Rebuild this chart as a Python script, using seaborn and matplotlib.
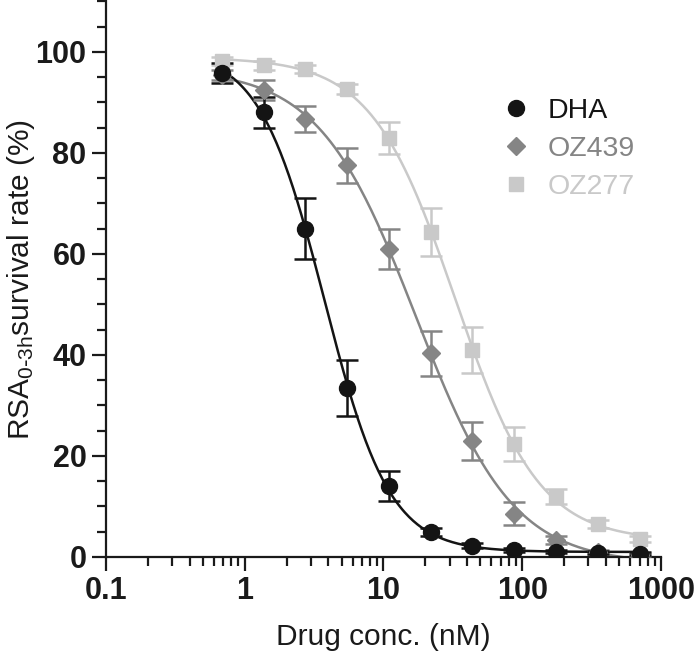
import numpy as np
import pandas as pd
import matplotlib
matplotlib.use('Agg')
import matplotlib.pyplot as plt
import seaborn as sns

# concentrations (nM), 2-fold dilution series
conc = [0.684, 1.37, 2.73, 5.47, 10.9, 21.9, 43.75, 87.5, 175, 350, 700]

# survival rate (%)
dha_mean = [95.8, 88.0, 65.0, 33.5, 14.0, 5.0, 2.2, 1.3, 1.0, 0.8, 0.6]
dha_err = [2.0, 3.0, 6.0, 5.5, 3.0, 0.8, 0.5, 0.4, 0.3, 0.3, 0.3]
oz439_mean = [95.5, 92.5, 86.7, 77.5, 61.0, 40.3, 23.0, 8.6, 3.4, 1.0, 0.4]
oz439_err = [1.0, 2.0, 2.5, 3.5, 4.0, 4.5, 3.7, 2.3, 0.8, 0.4, 0.3]
oz277_mean = [98.2, 97.3, 96.6, 92.7, 83.0, 64.3, 41.0, 22.4, 11.9, 6.5, 3.6]
oz277_err = [0.8, 0.8, 0.8, 1.0, 3.2, 4.7, 4.5, 3.3, 1.5, 0.8, 0.6]

drugs = ['DHA', 'OZ439', 'OZ277']
colors = {'DHA': '#141414', 'OZ439': '#858585', 'OZ277': '#c9c9c9'}
markers = {'DHA': 'o', 'OZ439': 'D', 'OZ277': 's'}
msizes = {'DHA': 11.5, 'OZ439': 9, 'OZ277': 10.5}

xtick_vals = [0.1, 1, 10, 100, 1000]
xtick_labels = ['0.1', '1', '10', '100', '1000']
ytick_vals = [0, 20, 40, 60, 80, 100]

rows = []
for name, m, e in [('DHA', dha_mean, dha_err), ('OZ439', oz439_mean, oz439_err),
                   ('OZ277', oz277_mean, oz277_err)]:
    for c, mm, ee in zip(conc, m, e):
        rows.append({'drug': name, 'conc': c, 'mean': mm, 'err': ee})
df = pd.DataFrame(rows)


def logistic4(p, lx):
    b, t, c, h = p
    return b + (t - b) / (1 + 10 ** ((lx - c) * h))


def fit_4pl(x, y):
    # small Levenberg-Marquardt fit of a 4-parameter logistic
    lx = np.log10(x)
    y = np.asarray(y, float)
    p = np.array([y.min(), y.max(), np.interp(-(y.max() + y.min()) / 2, -y, lx), 1.5])
    lam = 1e-3
    for _ in range(300):
        f0 = logistic4(p, lx)
        r = y - f0
        J = np.empty((len(lx), 4))
        for i in range(4):
            dp = np.zeros(4)
            dp[i] = 1e-6 * max(1.0, abs(p[i]))
            J[:, i] = (logistic4(p + dp, lx) - f0) / dp[i]
        A = J.T @ J
        step = np.linalg.solve(A + lam * np.diag(np.diag(A)), J.T @ r)
        pn = p + step
        if np.sum((y - logistic4(pn, lx)) ** 2) < np.sum(r ** 2):
            p = pn
            lam *= 0.3
        else:
            lam *= 10
    return p


sns.set_style('ticks')
plt.rcParams['font.family'] = ['Liberation Sans', 'DejaVu Sans']
plt.rcParams['mathtext.default'] = 'regular'

fig = plt.figure(figsize=(7.0, 6.58), dpi=100)
ax = fig.add_axes([0.1514, 0.1535, 0.7929, 0.8445])

for name in ['OZ277', 'OZ439', 'DHA']:
    d = df[df['drug'] == name]
    p = fit_4pl(d['conc'].values, d['mean'].values)
    xs = np.logspace(np.log10(d['conc'].min()), np.log10(d['conc'].max()), 300)
    fit_df = pd.DataFrame({'conc': xs, 'fit': logistic4(p, np.log10(xs))})
    sns.lineplot(data=fit_df, x='conc', y='fit', color=colors[name], lw=1.8,
                 ax=ax, legend=False, zorder=2)
    ax.errorbar(d['conc'], d['mean'], yerr=d['err'], fmt='none',
                ecolor=colors[name], elinewidth=1.8, capsize=8, capthick=1.8, zorder=3)
    ax.plot(d['conc'], d['mean'], ls='none', marker=markers[name], ms=msizes[name],
            color=colors[name], mec=colors[name], zorder=4, label=name)

ax.set_xscale('log')
ax.set_xlim(0.1, 1000)
ax.set_ylim(0, 110)
ax.set_xticks(xtick_vals)
ax.set_xticklabels(xtick_labels)
ax.set_yticks(ytick_vals)
ax.set_yticks(np.arange(0, 111, 5), minor=True)
ax.set_xticks([v * k for v in [0.1, 1, 10, 100] for k in range(2, 10)], minor=True)
ax.xaxis.set_minor_formatter(matplotlib.ticker.NullFormatter())

for lab in ax.get_xticklabels() + ax.get_yticklabels():
    lab.set_fontweight('bold')
    lab.set_fontsize(22)
    lab.set_color('#1a1a1a')

ax.tick_params(axis='both', which='major', length=10, width=1.6, pad=4, color='#1a1a1a')
ax.tick_params(axis='both', which='minor', length=6.5, width=1.6, color='#1a1a1a')
for s in ['left', 'bottom']:
    ax.spines[s].set_linewidth(1.6)
    ax.spines[s].set_color('#1a1a1a')
sns.despine(ax=ax)

ax.set_xlabel('Drug conc. (nM)', fontsize=21.5, color='#1a1a1a', labelpad=12)
ax.set_ylabel(r'RSA$_{0\text{-}3h}$survival rate (%)', fontsize=21.5, color='#1a1a1a')
ax.yaxis.set_label_coords(-0.124, 0.50)

# legend
handles, labels = ax.get_legend_handles_labels()
order = [labels.index(n) for n in drugs]
leg = fig.legend([handles[i] for i in order], [labels[i] for i in order],
                 loc='upper left', bbox_to_anchor=(0.68, 0.89), frameon=False,
                 fontsize=20.5, handletextpad=0.6, labelspacing=0.42,
                 handlelength=1.0)
for txt, name in zip(leg.get_texts(), drugs):
    txt.set_color(colors[name])

fig.savefig('out.png', dpi=100)
